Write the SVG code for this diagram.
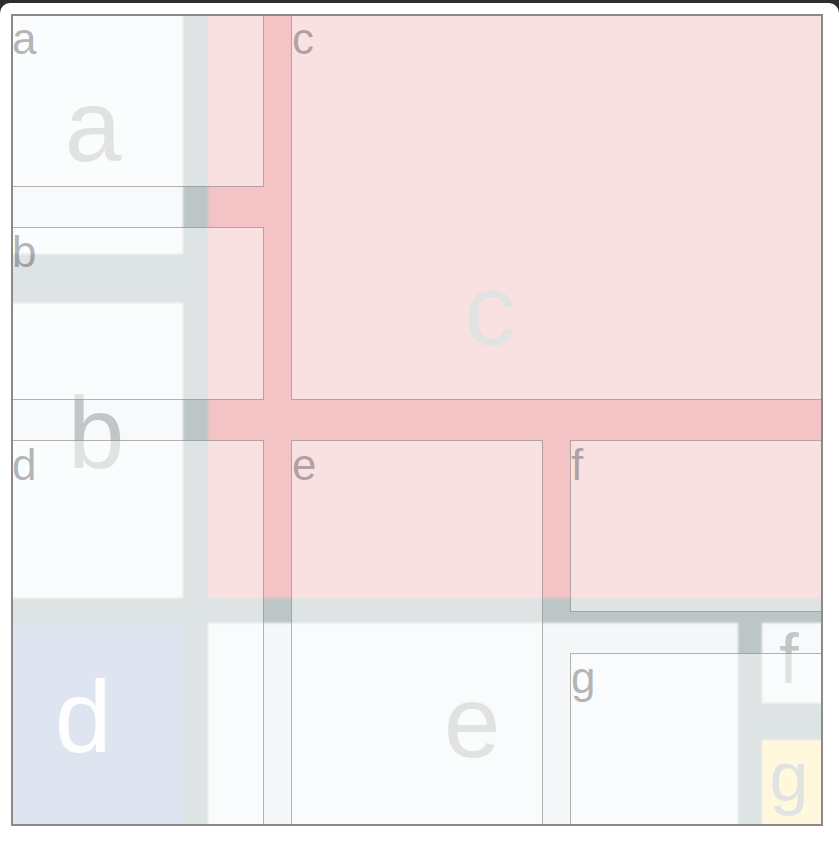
<svg xmlns="http://www.w3.org/2000/svg" width="839" height="855" viewBox="0 0 839 855">
  <defs>
    <filter id="soft" x="-5%" y="-5%" width="110%" height="110%">
      <feGaussianBlur stdDeviation="1.2"/>
    </filter>
    <clipPath id="frameClip">
      <rect x="11" y="14" width="812" height="812"/>
    </clipPath>
  </defs>
  <style>
    .big { font-family: "Liberation Sans", Arial, sans-serif; font-size: 102px; fill: #c2c6c6; text-anchor: middle; }
    .small { font-family: "Liberation Sans", Arial, sans-serif; font-size: 70px; fill: #c2c6c6; text-anchor: middle; }
    .box { fill: #ffffff; fill-opacity: 0.5; stroke: #8a8a8a; stroke-opacity: 0.65; stroke-width: 1; }
    .lbl { font-family: "Liberation Sans", Arial, sans-serif; font-size: 44px; fill: #000000; fill-opacity: 0.3; }
  </style>

  <!-- window chrome -->
  <rect x="0" y="0" width="839" height="20" fill="#2e2e2e"/>
  <rect x="0" y="3" width="839" height="880" rx="10" ry="10" fill="#ffffff"/>

  <!-- background screenshot of the layout -->
  <g id="screenshot" clip-path="url(#frameClip)">
    <g filter="url(#soft)">
      <rect x="5" y="8" width="825" height="825" fill="#f7f9fb"/>
      <rect x="183" y="8" width="25" height="825" fill="#bcc6c6"/>
      <rect x="5" y="254" width="203" height="49" fill="#bcc6c6"/>
      <rect x="5" y="598" width="825" height="25" fill="#bcc6c6"/>
      <rect x="738" y="598" width="24" height="235" fill="#bcc6c6"/>
      <rect x="762" y="703" width="68" height="37" fill="#bcc6c6"/>
      <rect x="208" y="8" width="622" height="590" fill="#f3c3c5"/>
      <rect x="5" y="623" width="178" height="210" fill="#bdcbe1"/>
      <rect x="208" y="623" width="530" height="210" fill="#f5f7f8"/>
      <rect x="762" y="623" width="68" height="80" fill="#f7f9fb"/>
      <rect x="762" y="740" width="68" height="93" fill="#fff1bb"/>
    </g>
    <text class="big" x="93" y="161">a</text>
    <text class="big" x="96" y="468">b</text>
    <text class="big" x="490" y="345">c</text>
    <text class="big" x="83" y="752" style="fill:#fdfdfd">d</text>
    <text class="big" x="472" y="757">e</text>
    <text class="small" x="789" y="683">f</text>
    <text class="small" x="789" y="801">g</text>
  </g>

  <!-- grid area overlays -->
  <g id="node-a">
    <rect class="box" x="11.5" y="14.5" width="252" height="172"/>
    <text class="lbl" x="12" y="54">a</text>
  </g>
  <g id="node-b">
    <rect class="box" x="11.5" y="227.5" width="252" height="172"/>
    <text class="lbl" x="12" y="267">b</text>
  </g>
  <g id="node-c">
    <rect class="box" x="291.5" y="14.5" width="531" height="385"/>
    <text class="lbl" x="292" y="54">c</text>
  </g>
  <g id="node-d">
    <rect class="box" x="11.5" y="440.5" width="252" height="385"/>
    <text class="lbl" x="12" y="480">d</text>
  </g>
  <g id="node-e">
    <rect class="box" x="291.5" y="440.5" width="251" height="385"/>
    <text class="lbl" x="292" y="480">e</text>
  </g>
  <g id="node-f">
    <rect class="box" x="570.5" y="440.5" width="252" height="171"/>
    <text class="lbl" x="571" y="480">f</text>
  </g>
  <g id="node-g">
    <rect class="box" x="570.5" y="653.5" width="252" height="172"/>
    <text class="lbl" x="571" y="693">g</text>
  </g>

  <g id="connectors"></g>

  <!-- outer frame -->
  <rect x="12" y="15" width="810" height="810" fill="none" stroke="#8a8a8a" stroke-width="2"/>
</svg>
